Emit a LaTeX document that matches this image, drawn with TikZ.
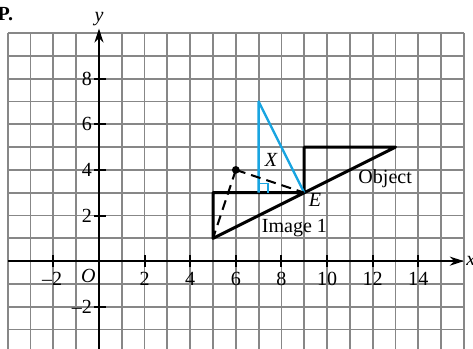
\documentclass[tikz,border=0pt]{standalone}
\usepackage{fontspec}
\setmainfont{Liberation Serif}
\usetikzlibrary{arrows.meta}
\definecolor{gridgray}{RGB}{135,135,135}
\definecolor{skyblue}{RGB}{25,165,225}
\begin{document}
\begin{tikzpicture}[x=0.4cm, y=0.4cm]
\tikzstyle{gridline} = [draw=gridgray, line width=0.9pt]
\tikzstyle{axis}     = [line width=1pt, -{Stealth[length=7pt, width=4.5pt]}]
\tikzstyle{tick}     = [line width=1pt]
\tikzstyle{figline}  = [line width=1.5pt, line join=round]
\tikzstyle{blueline} = [line width=1.2pt, draw=skyblue, line join=round]
\tikzstyle{guide}    = [line width=1pt, dash pattern=on 5pt off 3pt]
\tikzstyle{num}      = [inner sep=1pt]

\useasboundingbox (-4.34,-3.82) rectangle (16.4,11.45);

% squared paper
\draw [gridline, step=0.4cm] (-4,-4) grid (16,10);

% axes
\coordinate (xstart) at (-4,0);
\coordinate (xend)   at (16,0);
\coordinate (ystart) at (0,-4);
\coordinate (yend)   at (0,10.2);
\draw [axis] (xstart) -- (xend);
\draw [axis] (ystart) -- (yend);
\node (xlabel) [anchor=west, inner sep=1pt] at (xend) {\itshape x};
\node (ylabel) [anchor=south, inner sep=1pt] at (yend) {\itshape y};
\node (origin) at (-0.47,-0.65) {\itshape O};

\foreach \t in {-2,2,4,...,14} {
  \draw [tick] (\t,-0.25) -- (\t,0.25);
}
\foreach \t in {2,4,...,14} {
  \node (xnum\t) [num] at (\t,-0.78) {\t};
}
\node (xnumneg) [num] at (-2.05,-0.78) {–2};
\foreach \t in {-2,2,4,6,8} {
  \draw [tick] (-0.2,\t) -- (0.3,\t);
}
\foreach \t in {2,4,6,8} {
  \node (ynum\t) [num, anchor=east] at (-0.2,\t) {\t};
}
\node (ynumneg) [num, anchor=east] at (-0.2,-2) {–2};

% points
\coordinate (A) at (5,1);
\coordinate (B) at (5,3);
\coordinate (E) at (9,3);
\coordinate (F) at (9,5);
\coordinate (G) at (13,5);
\coordinate (H) at (7,3);
\coordinate (K) at (7,7);
\coordinate (C) at (6,4);

% object and image 1
\draw [figline] (A) -- (B) -- (E) -- (F) -- (G) -- cycle;

% construction
\draw [blueline] (H) -- (K) -- (E);
\draw [line width=0.8pt, draw=skyblue] (7,3.4) -- (7.4,3.4) -- (7.4,3);
\draw [guide] (C) -- (E);
\draw [guide] (C) -- (A);
\fill (C) circle (0.17);

% labels
\node (lblX)     at (7.54,4.43)  {\itshape X};
\node (lblE)     at (9.47,2.7)   {\itshape E};
\node (lblobj)   at (12.55,3.6)  {Object};
\node (lblimg)   at (8.57,1.45)  {Image 1};
\node (lblP) [anchor=base east, inner sep=0pt] at (-3.75,10.57) {\textbf{P.}};
\end{tikzpicture}
\end{document}
